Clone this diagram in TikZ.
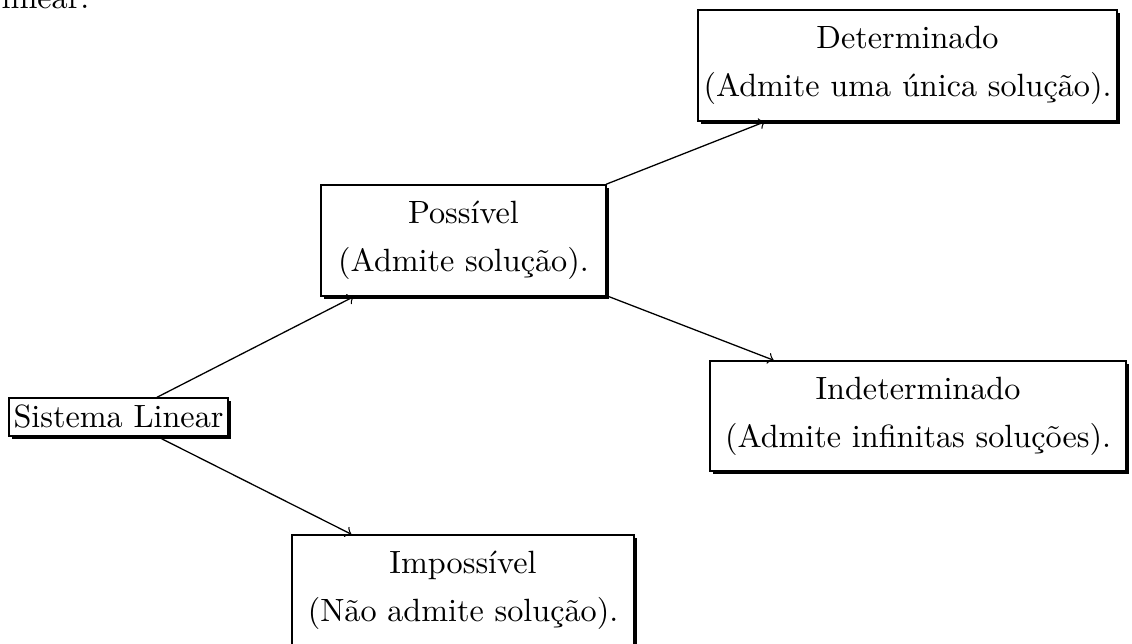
\documentclass[tikz,border=0pt]{standalone}
\usepackage{fontspec}
\usetikzlibrary{shadows}
\begin{document}
\begin{tikzpicture}[x=0.3106pt, y=-0.3106pt,
  pxbox/.style={draw, fill=white, align=center, inner sep=0pt,
    font=\fontsize{10}{14.9}\selectfont,
    drop shadow={shadow xshift=1pt, shadow yshift=-1pt, opacity=1, fill=black}},
  conn/.style={->, line width=0.4pt}]
\clip (0,0) rectangle (1132,644);
\fill[white] (0,0) rectangle (1132,644);
\node[anchor=base west, inner sep=0pt, font=\fontsize{10}{12}\selectfont] (lin) at (1,9) {linear.};
\node[pxbox, minimum width=130.1pt, minimum height=34.5pt] (det) at (907.5,65.5) {Determinado\\(Admite uma única solução).};
\node[pxbox, minimum width=88.5pt, minimum height=34.5pt] (pos) at (463.5,240.5) {Possível\\(Admite solução).};
\node[pxbox, minimum width=129.2pt, minimum height=34.2pt] (ind) at (918,416) {Indeterminado\\(Admite infinitas soluções).};
\node[pxbox, minimum width=106.2pt, minimum height=34.5pt] (imp) at (463,590.5) {Impossível\\(Não admite solução).};
\node[pxbox, minimum width=68.0pt, minimum height=11.8pt] (sl) at (118.5,417) {Sistema Linear};
\draw[conn] (sl) -- (pos);
\draw[conn] (sl) -- (imp);
\draw[conn] (pos) -- (det);
\draw[conn] (pos) -- (ind);
\end{tikzpicture}
\end{document}
